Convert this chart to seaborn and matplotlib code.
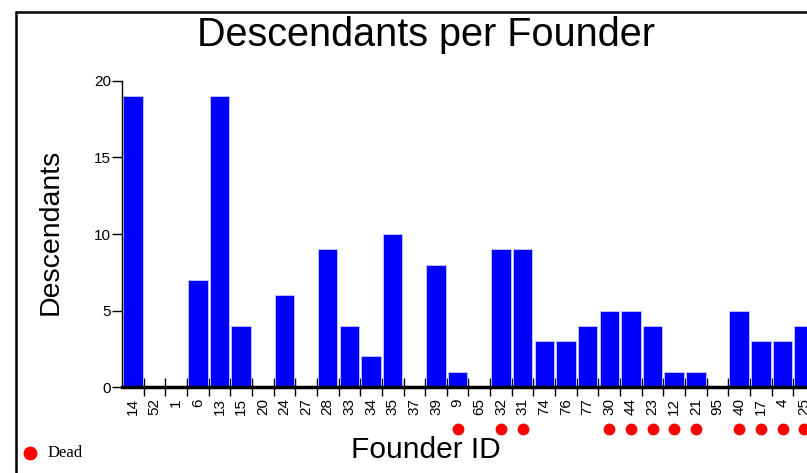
import numpy as np
import pandas as pd
import matplotlib
matplotlib.use("Agg")
import matplotlib.pyplot as plt
import matplotlib.transforms as mtransforms
from matplotlib.lines import Line2D
import seaborn as sns

# Founder IDs in plotted order, descendants per founder, and which are dead
founder_ids = ["14", "52", "1", "6", "13", "15", "20", "24", "27", "28", "33",
               "34", "35", "37", "39", "9", "65", "32", "31", "74", "76", "77",
               "30", "44", "23", "12", "21", "95", "40", "17", "4", "25"]
descendants = [19, 0, 0, 7, 19, 4, 0, 6, 0, 9, 4,
               2, 10, 0, 8, 1, 0, 9, 9, 3, 3, 4,
               5, 5, 4, 1, 1, 0, 5, 3, 3, 4]
dead_ids = ["9", "32", "31", "30", "44", "23", "12", "21", "40", "17", "4", "25"]
y_ticks = [0, 5, 10, 15, 20]

sns.set_style("white")
plt.rcParams["font.family"] = ["Liberation Sans", "DejaVu Sans"]
plt.rcParams["text.color"] = "black"
plt.rcParams["xtick.color"] = "black"
plt.rcParams["ytick.color"] = "black"

df = pd.DataFrame({"founder": founder_ids, "descendants": descendants})

fig = plt.figure(figsize=(8.07, 4.73), dpi=100)
# axes runs off the right edge, like the original cropped chart
ax = fig.add_axes([122 / 807, 86 / 473, 693 / 807, 306 / 473])

sns.barplot(data=df, x="founder", y="descendants", order=founder_ids,
            color="#0000ff", saturation=1, width=0.9,
            edgecolor="#c8c8ff", linewidth=0.6, ax=ax)

ax.set_xlim(-0.5, len(founder_ids) - 0.5)
ax.set_ylim(0, 20)
ax.set_yticks(y_ticks)
ax.set_xlabel("")
ax.set_ylabel("")

# labels centred on bars, tick marks between bars
ax.set_xticks(range(len(founder_ids)))
ax.set_xticklabels(founder_ids, rotation=90, fontsize=11)
ax.tick_params(axis="x", which="major", length=0, pad=8, labelcolor="black")
ax.set_xticks(np.arange(0.5, len(founder_ids) - 0.5, 1), minor=True)
ax.tick_params(axis="x", which="minor", direction="inout", length=13,
               width=1, color="black", bottom=True)
ax.tick_params(axis="y", direction="out", length=7, width=1, color="black",
               labelsize=11, pad=1, left=True, labelcolor="black")

for side in ["top", "right"]:
    ax.spines[side].set_visible(False)
ax.spines["left"].set_color("black")
ax.spines["left"].set_linewidth(1)
ax.spines["bottom"].set_color("black")
ax.spines["bottom"].set_linewidth(2.5)

# red dots under the dead founders
dead_x = [founder_ids.index(f) for f in dead_ids]
trans = mtransforms.blended_transform_factory(ax.transData, ax.transAxes)
ax.plot(dead_x, [-0.137] * len(dead_x), "o", color="#ff0000", markersize=7.5,
        transform=trans, clip_on=False, linestyle="none")

# titles
fig.text(426 / 807, 1 - 35 / 473, "Descendants per Founder", fontsize=28.5,
         color="black", ha="center", va="center")
fig.text(51 / 807, 1 - 232 / 473, "Descendants", fontsize=20.5, rotation=90,
         color="black", ha="center", va="center")
fig.text(426 / 807, 1 - 450 / 473, "Founder ID", fontsize=21.5,
         color="black", ha="center", va="center")

# legend for dead founders
fig.add_artist(Line2D([30 / 807], [1 - 453 / 473], marker="o", color="#ff0000",
                      markersize=9, linestyle="none", transform=fig.transFigure))
fig.text(48 / 807, 1 - 453 / 473, "Dead", fontsize=12, color="black",
         family=["Liberation Serif", "DejaVu Serif"], ha="left", va="center")

# frame around the figure, cut off at right and bottom
fig.add_artist(Line2D([16 / 807, 16 / 807], [0, 1 - 12 / 473], color="black",
                      linewidth=1.8, transform=fig.transFigure))
fig.add_artist(Line2D([16 / 807, 1], [1 - 12 / 473, 1 - 12 / 473], color="black",
                      linewidth=1.8, transform=fig.transFigure))

fig.savefig("out.png", dpi=100, facecolor="white")
